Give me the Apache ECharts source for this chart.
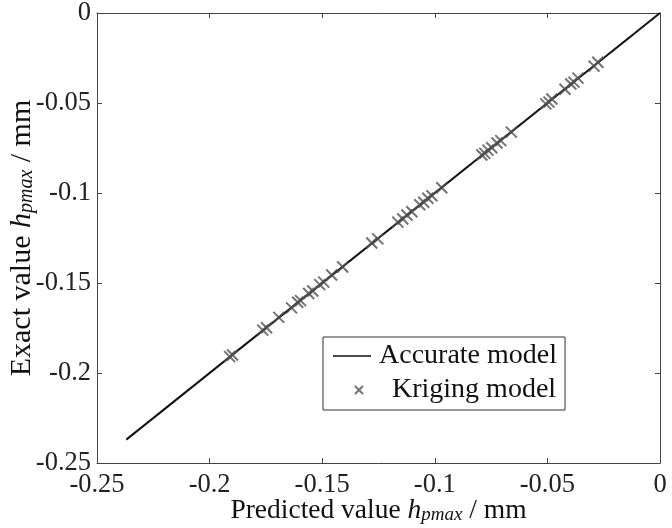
<!DOCTYPE html>
<html>
<head>
<meta charset="utf-8">
<script src="https://cdn.jsdelivr.net/npm/echarts@6/dist/echarts.min.js"></script>
<style>
  html, body { margin: 0; padding: 0; background: #fff; }
  #chart { width: 672px; height: 528px; }
</style>
</head>
<body>
<div id="chart"></div>
<script>
// Kriging surrogate: predicted vs exact maximum deflection h_pmax (mm)
const krigingPredicted = [
  -0.1911, -0.1898, -0.1764, -0.1747, -0.1693, -0.1636, -0.1609, -0.1596,
  -0.1560, -0.1542, -0.1511, -0.1493, -0.1458, -0.1409, -0.1280, -0.1253,
  -0.1164, -0.1142, -0.1124, -0.1102, -0.1067, -0.1049, -0.1031, -0.1013,
  -0.0969, -0.0791, -0.0778, -0.0764, -0.0747, -0.0724, -0.0707, -0.0660,
  -0.0507, -0.0493, -0.0480, -0.0422, -0.0396, -0.0382, -0.0364, -0.0293,
  -0.0276
];
const krigingExact = [
  -0.1909, -0.1900, -0.1762, -0.1749, -0.1691, -0.1638, -0.1607, -0.1598,
  -0.1558, -0.1544, -0.1509, -0.1495, -0.1456, -0.1411, -0.1278, -0.1255,
  -0.1162, -0.1144, -0.1122, -0.1104, -0.1065, -0.1051, -0.1029, -0.1015,
  -0.0971, -0.0789, -0.0780, -0.0762, -0.0749, -0.0722, -0.0709, -0.0662,
  -0.0505, -0.0495, -0.0478, -0.0424, -0.0394, -0.0384, -0.0362, -0.0295,
  -0.0274
];
// Reference line of the accurate model (exact = predicted)
const accurateX = [-0.237, 0];
const accurateY = [-0.237, 0];

const axisTicks = { min: -0.25, max: 0, interval: 0.05 };
const seriesNames = ['Accurate model', 'Kriging model'];

const serif = "'Liberation Serif', 'Times New Roman', serif";
const frameColor = '#444';
const markColor = '#505050';

function nameRich(size) {
  const sub = Math.round(size * 0.68);
  return {
    n: { fontFamily: serif, fontSize: size, color: '#111', lineHeight: size + 4, verticalAlign: 'bottom' },
    i: { fontFamily: serif, fontSize: size, color: '#111', lineHeight: size + 4, verticalAlign: 'bottom', fontStyle: 'italic' },
    s: { fontFamily: serif, fontSize: sub, color: '#111', lineHeight: Math.round(size * 0.5), verticalAlign: 'bottom', fontStyle: 'italic' }
  };
}
const axisName = (label) => '{n|' + label + ' }{i|h}{s|pmax}{n| / mm}';

const crossPath = 'path://M0,0L10,10M10,0L0,10';

function zip(a, b) { return a.map((v, k) => [v, b[k]]); }

function frameAxis(extra) {
  return Object.assign({
    type: 'value',
    min: axisTicks.min, max: axisTicks.max, interval: axisTicks.interval,
    nameMoveOverlap: false,
    axisLine: { show: true, onZero: false, lineStyle: { color: frameColor, width: 1 } },
    axisTick: { show: true, inside: true, length: 5, lineStyle: { color: frameColor } },
    splitLine: { show: false }
  }, extra);
}

const chart = echarts.init(document.getElementById('chart'), null, { renderer: 'canvas' });
chart.setOption({
  backgroundColor: '#fff',
  animation: false,
  grid: { left: 97, right: 12, top: 13, bottom: 65, containLabel: false, outerBoundsMode: 'none' },
  xAxis: [
    frameAxis({
      position: 'bottom',
      name: axisName('Predicted value'),
      nameLocation: 'middle',
      nameGap: 30,
      nameTextStyle: { rich: nameRich(27.5) },
      axisLabel: { fontFamily: serif, fontSize: 26.5, color: '#222', margin: 9 }
    }),
    frameAxis({ position: 'top', axisLabel: { show: false } })
  ],
  yAxis: [
    frameAxis({
      position: 'left',
      name: axisName('Exact value'),
      nameLocation: 'middle',
      nameGap: 60,
      nameTextStyle: { rich: nameRich(30) },
      axisLabel: { fontFamily: serif, fontSize: 26.5, color: '#222', margin: 6 }
    }),
    frameAxis({ position: 'right', axisLabel: { show: false } })
  ],
  legend: {
    orient: 'vertical',
    left: 323,
    top: 337,
    padding: [4, 8, 5, 9],
    itemGap: 4,
    itemWidth: 38,
    itemHeight: 14,
    backgroundColor: '#fff',
    borderColor: '#333',
    borderWidth: 1,
    borderRadius: 0,
    selectedMode: false,
    data: [
      { name: seriesNames[0], icon: 'path://M0,0M38,14M0,6.2L38,6.2L38,7.8L0,7.8Z', itemStyle: { color: '#111' } },
      { name: seriesNames[1], icon: 'path://M0,0M38,14M22,3L30,11M30,3L22,11' }
    ],
    formatter: (name) => name === seriesNames[0] ? '{a|' + name + '}' : '{b|' + name + '}',
    textStyle: {
      fontFamily: serif, fontSize: 28, color: '#111', lineHeight: 30,
      rich: {
        a: { fontFamily: serif, fontSize: 28, color: '#111', lineHeight: 30, padding: [0, 0, 0, 3] },
        b: { fontFamily: serif, fontSize: 28, color: '#111', lineHeight: 30, padding: [0, 0, 0, 16] }
      }
    }
  },
  series: [
    {
      name: seriesNames[0],
      type: 'line',
      data: zip(accurateX, accurateY),
      symbol: 'none',
      lineStyle: { color: '#111', width: 2 },
      itemStyle: { color: '#111' },
      z: 2
    },
    {
      name: seriesNames[1],
      type: 'scatter',
      data: zip(krigingPredicted, krigingExact),
      symbol: crossPath,
      symbolSize: 11,
      itemStyle: { color: 'transparent', borderColor: markColor, borderWidth: 2 },
      z: 3
    }
  ]
});
</script>
</body>
</html>
